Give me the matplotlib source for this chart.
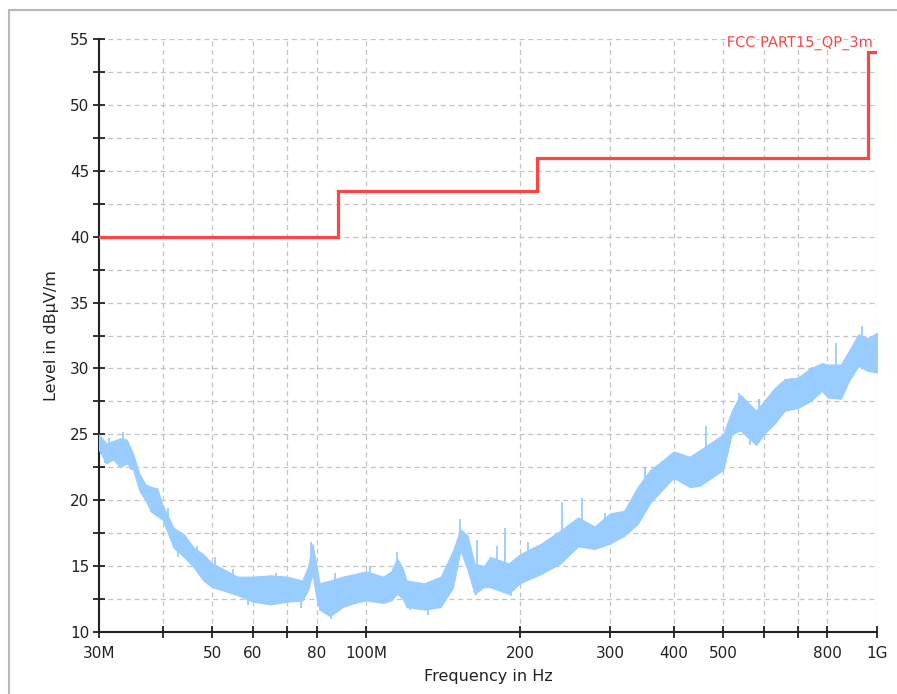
import numpy as np
import matplotlib
matplotlib.use("Agg")
import matplotlib.pyplot as plt
import matplotlib.patheffects as pe
from matplotlib.patches import Rectangle
from matplotlib.ticker import FixedLocator, NullFormatter

# limit line (FCC Part 15 QP, 3 m), step edges in MHz
limit_freq = [30, 88, 88, 216, 216, 960, 960, 1000]
limit_level = [40, 40, 43.5, 43.5, 46, 46, 54, 54]

trace_freq = [30, 31, 32, 33, 34, 35, 36, 37, 38, 39, 40, 42, 44, 46, 48, 50,
              53, 56, 60, 65, 70, 75, 77, 78.5, 80, 81, 85, 90, 95, 100, 108,
              112, 115, 118, 120, 130, 140, 148, 153, 158, 163, 170, 175, 190,
              200, 220, 240, 260, 280, 300, 320, 340, 360, 380, 400, 430, 450,
              500, 520, 540, 580, 600, 630, 660, 700, 740, 780, 800, 850, 880,
              920, 960, 1000]
trace_lo = [23.8, 22.8, 23.1, 22.5, 22.8, 22.3, 20.7, 20.0, 19.1, 18.8, 18.5,
            16.4, 15.7, 14.9, 13.9, 13.4, 13.1, 12.8, 12.3, 12.1, 12.3, 12.4,
            13.2, 14.4, 12.5, 11.7, 11.2, 11.9, 12.2, 12.4, 12.2, 12.4, 12.9,
            12.5, 11.9, 11.7, 11.9, 13.4, 16.2, 14.7, 12.9, 13.4, 13.4, 12.9,
            13.7, 14.4, 15.2, 16.5, 16.3, 16.7, 17.3, 18.2, 19.8, 20.8, 21.7,
            21.0, 21.1, 22.3, 25.0, 25.3, 24.2, 25.0, 25.8, 26.8, 27.0, 27.5,
            28.3, 27.8, 27.7, 29.0, 30.2, 29.8, 29.7]
trace_hi = [25.0, 24.3, 24.5, 24.7, 24.6, 23.5, 22.0, 21.2, 21.0, 20.9, 19.6,
            17.9, 17.4, 16.4, 15.9, 15.2, 14.7, 14.2, 14.2, 14.3, 14.2, 13.9,
            15.0, 16.7, 15.0, 13.7, 13.9, 14.2, 14.4, 14.6, 14.2, 14.6, 15.6,
            14.8, 13.9, 13.7, 14.2, 16.2, 17.8, 17.3, 15.2, 15.0, 15.7, 15.2,
            15.9, 16.7, 17.7, 18.7, 18.0, 19.0, 19.2, 21.0, 22.3, 23.0, 23.7,
            23.3, 23.8, 25.0, 26.8, 28.0, 26.8, 27.5, 28.5, 29.2, 29.3, 30.0,
            30.4, 30.3, 30.3, 31.3, 32.6, 32.3, 32.7]

# isolated spikes / dips sticking out of the band
spike_freq = [30.8, 31.4, 33.4, 34.6, 37.9, 39.0, 40.9, 42.9, 43.4, 46.6, 50.5,
              55.0, 58.7, 66.7, 74.6, 78.0, 85.5, 87, 101.6, 115, 122, 131.9,
              153, 164, 165, 180, 187, 192, 207.6, 242, 265, 282, 293, 351,
              430, 462, 538, 564, 588, 745, 830, 852, 933, 954]
spike_lo = [22.8, 23.5, 23.5, 22.3, 19.1, 19.5, 18.5, 15.7, 16.5, 15.5, 14.0,
            13.5, 12.05, 13.0, 11.8, 15.0, 11.0, 12.5, 13.5, 14.0, 11.7, 11.3,
            16.5, 12.8, 14.0, 14.5, 14.0, 12.7, 14.8, 16.0, 17.5, 16.35, 17.5,
            20.0, 21.0, 23.0, 26.5, 24.2, 25.5, 28.5, 29.5, 27.7, 31.0, 29.9]
spike_hi = [24.0, 24.7, 25.2, 23.5, 20.5, 20.9, 19.4, 16.8, 17.6, 16.5, 15.7,
            14.8, 13.0, 14.45, 12.8, 16.85, 12.5, 14.45, 15.0, 16.1, 12.8, 12.5,
            18.55, 14.0, 17.0, 16.5, 17.9, 14.0, 16.85, 19.9, 20.15, 17.0, 19.0,
            22.55, 22.0, 25.6, 28.15, 25.5, 27.7, 30.1, 31.9, 29.0, 33.2, 31.0]

xtick_pos = [30, 40, 50, 60, 70, 80, 100, 200, 300, 400, 500, 600, 700, 800, 1000]
xtick_lab = ["30M", "", "50", "60", "", "80", "100M", "200", "300", "400", "500",
             "", "", "800", "1G"]
ytick_major = [10, 15, 20, 25, 30, 35, 40, 45, 50, 55]
ytick_minor = [12.5, 17.5, 22.5, 27.5, 32.5, 37.5, 42.5, 47.5, 52.5]

plt.rcParams['font.family'] = ['DejaVu Sans']
fig = plt.figure(figsize=(8.97, 6.94), dpi=100)
ax = fig.add_axes([99 / 897, 1 - 632 / 694, 778 / 897, 593 / 694])

# outer grey frame
fig.patches.append(Rectangle((8.5 / 897, -0.1), 1.2, (694 - 9.5) / 694 + 0.1,
                             transform=fig.transFigure, fill=False,
                             edgecolor="#b8b8b8", linewidth=1.5))

ax.set_xscale("log")
ax.set_xlim(30, 1000)
ax.set_ylim(10, 55)

blue = "#99ccff"
ax.fill_between(trace_freq, trace_lo, trace_hi, color=blue, linewidth=0.8,
                edgecolor=blue, zorder=3)
ax.vlines(spike_freq, spike_lo, spike_hi, color=blue, linewidth=1.3, zorder=3)

ax.plot(limit_freq, limit_level, color="#ff4444", linewidth=2.3, zorder=4,
        solid_joinstyle="miter")
ax.text(982, 54.7, "FCC PART15_QP_3m", color="#ff4444", fontsize=10.5,
        ha="right", va="center", zorder=5,
        path_effects=[pe.withStroke(linewidth=3, foreground="white")])

ax.xaxis.set_major_locator(FixedLocator(xtick_pos))
ax.xaxis.set_minor_locator(FixedLocator([]))
ax.set_xticklabels(xtick_lab)
ax.xaxis.set_minor_formatter(NullFormatter())
ax.yaxis.set_major_locator(FixedLocator(ytick_major))
ax.yaxis.set_minor_locator(FixedLocator(ytick_minor))

grid_kw = dict(color="#c4c4c4", linewidth=0.9, linestyle=(0, (4, 3)))
ax.grid(True, which="major", axis="both", **grid_kw)
ax.grid(True, which="minor", axis="y", **grid_kw)
ax.set_axisbelow(True)

for s in ["top", "right"]:
    ax.spines[s].set_visible(False)
for s in ["left", "bottom"]:
    ax.spines[s].set_linewidth(1.5)
    ax.spines[s].set_color("#222222")

ax.tick_params(axis="both", which="both", direction="inout", length=8,
               width=1.3, color="#222222", labelcolor="#222222", labelsize=11)
ax.tick_params(axis="y", pad=3)
ax.tick_params(axis="x", pad=6)

ax.set_xlabel("Frequency in Hz", fontsize=11.5, color="#222222", labelpad=6)
ax.set_ylabel("Level in dBµV/m", fontsize=11.5, color="#222222", labelpad=8)

fig.savefig("out.png", dpi=100, facecolor="white")
